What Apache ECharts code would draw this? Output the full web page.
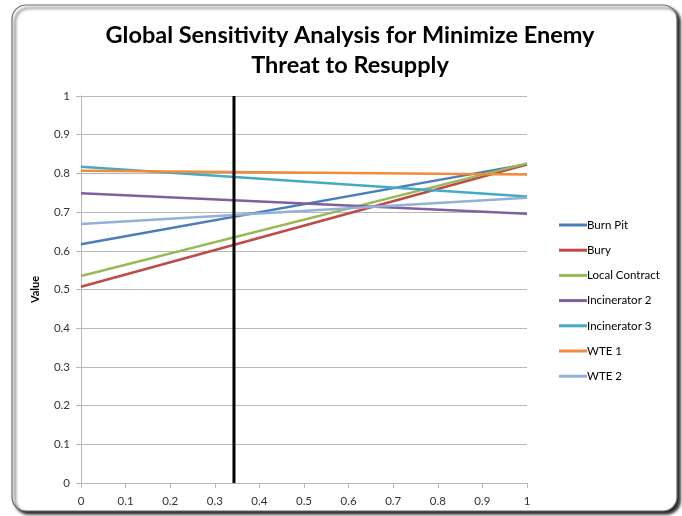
<!DOCTYPE html>
<html>
<head>
<meta charset="utf-8">
<script src="https://cdn.jsdelivr.net/npm/echarts@6/dist/echarts.min.js"></script>
<style>
  html, body { margin: 0; padding: 0; background: #fff; }
  #chart { width: 682px; height: 516px; }
</style>
</head>
<body>
<div id="chart"></div>
<script>
// Weight on the criterion (x) at both ends of the sweep
const weights = [0, 1];
const seriesNames = ['Burn Pit', 'Bury', 'Local Contract', 'Incinerator 2', 'Incinerator 3', 'WTE 1', 'WTE 2'];
const burnPit = [0.617, 0.824];
const bury = [0.507, 0.823];
const localContract = [0.535, 0.826];
const incinerator2 = [0.749, 0.696];
const incinerator3 = [0.817, 0.740];
const wte1 = [0.807, 0.797];
const wte2 = [0.669, 0.737];
const currentWeight = 0.343;
const xTicks = [0, 0.1, 0.2, 0.3, 0.4, 0.5, 0.6, 0.7, 0.8, 0.9, 1];
const yTicks = [0, 0.1, 0.2, 0.3, 0.4, 0.5, 0.6, 0.7, 0.8, 0.9, 1];

const seriesValues = [burnPit, bury, localContract, incinerator2, incinerator3, wte1, wte2];
const colors = ['#4A7EBB', '#BE4B48', '#98B954', '#7D60A0', '#46AAC5', '#F38B3C', '#93B1D8'];

const font = 'Lato, "Open Sans", sans-serif';
const chart = echarts.init(document.getElementById('chart'));

const lineSeries = seriesNames.map((name, i) => ({
  name: name,
  type: 'line',
  data: weights.map((w, j) => [w, seriesValues[i][j]]),
  symbol: 'none',
  lineStyle: { width: 2.5, color: colors[i] },
  itemStyle: { color: colors[i] },
  z: 3
}));

lineSeries.push({
  name: 'current',
  type: 'line',
  data: [[currentWeight, 0], [currentWeight, 1]],
  symbol: 'none',
  lineStyle: { width: 3, color: '#000' },
  z: 4
});

chart.setOption({
  animation: false,
  backgroundColor: '#fff',
  graphic: [{
    type: 'rect',
    shape: { x: 12, y: 5, width: 665, height: 506, r: 14 },
    style: {
      fill: '#fff',
      stroke: '#6a6a6a',
      lineWidth: 1.2,
      shadowBlur: 3,
      shadowOffsetX: 3,
      shadowOffsetY: 3,
      shadowColor: 'rgba(0,0,0,0.85)'
    },
    z: -10,
    silent: true
  }],
  title: {
    text: 'Global Sensitivity Analysis for Minimize Enemy\nThreat to Resupply',
    left: 345,
    textAlign: 'center',
    top: 15,
    textStyle: {
      fontFamily: font,
      fontWeight: 'bold',
      fontSize: 23.5,
      lineHeight: 30,
      color: '#000'
    }
  },
  legend: {
    data: seriesNames,
    orient: 'vertical',
    left: 554,
    top: 214,
    itemWidth: 28,
    itemHeight: 3,
    itemGap: 13.2,
    icon: 'rect',
    textStyle: { fontFamily: font, fontSize: 11.5, color: '#000', padding: [0, 0, 0, -5] }
  },
  grid: { left: 81, right: 155, top: 96, bottom: 33 },
  xAxis: {
    type: 'value',
    min: 0,
    max: 1,
    interval: 0.1,
    axisLine: { show: true, lineStyle: { color: '#b8b8b8', width: 1 } },
    axisTick: { show: true, length: 5, lineStyle: { color: '#b8b8b8' } },
    splitLine: { show: false },
    axisLabel: {
      fontFamily: font,
      fontSize: 11.5,
      color: '#333',
      margin: 12,
      formatter: v => String(xTicks[Math.round(v * 10)])
    }
  },
  yAxis: {
    type: 'value',
    min: 0,
    max: 1,
    interval: 0.1,
    name: 'Value',
    nameLocation: 'middle',
    nameGap: 40,
    nameRotate: 90,
    nameTextStyle: { fontFamily: font, fontSize: 11, fontWeight: 'bold', color: '#000' },
    axisLine: { show: true, lineStyle: { color: '#b8b8b8', width: 1 } },
    axisTick: { show: true, length: 5, lineStyle: { color: '#b8b8b8' } },
    splitLine: { show: true, lineStyle: { color: '#b8b8b8', width: 1 } },
    axisLabel: {
      fontFamily: font,
      fontSize: 11.5,
      color: '#333',
      margin: 11,
      formatter: v => String(yTicks[Math.round(v * 10)])
    }
  },
  series: lineSeries
});
</script>
</body>
</html>
